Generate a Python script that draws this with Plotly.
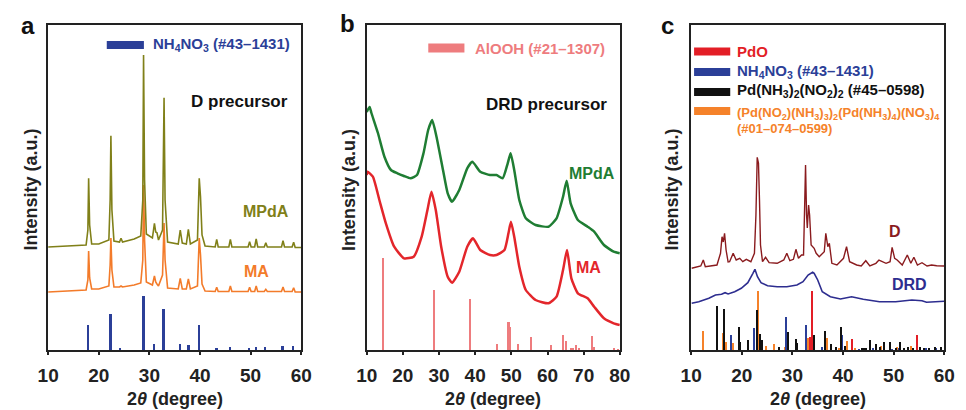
import plotly.graph_objects as go

W, H = 966, 410
FONT = "Liberation Sans, Arial, sans-serif"

# ---------------- Panel a : D precursor (2theta 10-60) ----------------
a_mpda_x = [10, 15, 17.5, 17.85, 18.0, 18.2, 18.6, 20, 22.0, 22.25, 22.4, 22.6, 23.0, 24.1, 24.4, 24.7,
            27, 28.3, 28.7, 28.85, 29.05, 29.4, 30.6, 31.0, 31.25, 31.5, 31.8, 32.6, 32.9, 33.1, 33.6,
            35.7, 36.1, 36.5, 37.3, 37.7, 38.1, 39.5, 39.85, 40.1, 40.4, 41, 43.0, 43.3, 43.6, 45.7,
            46.0, 46.3, 49.5, 49.8, 50.1, 50.8, 51.1, 51.4, 52.7, 53.0, 53.3, 56.1, 56.4, 56.7, 58.2,
            58.5, 58.8, 60]
a_mpda_y = [103, 104, 105, 120, 171.7, 125, 106, 106, 110, 150, 214.3, 140, 109, 108, 111.7, 108,
            111, 114, 150, 295, 170, 116, 112, 126.7, 118, 117.3, 110, 120, 252.3, 150, 108,
            106, 120, 107, 106, 120.7, 106, 110, 171.7, 153.3, 115, 104, 103, 110.7, 103, 103,
            110.7, 103, 103, 108.3, 103, 103, 111, 103, 103, 107.3, 103, 103, 109.3, 103, 103,
            107.7, 102.5, 102.5]
a_ma_x = a_mpda_x
a_ma_y = [58, 59, 60, 70, 99, 72, 61, 61, 64, 85, 112, 80, 63, 63, 64, 63,
          65, 67, 90, 165, 110, 68, 65, 74, 68, 66, 64, 75, 127, 90, 62,
          61, 71.7, 61, 61, 71, 61, 64, 112, 95, 66, 59, 58.5, 62.7, 58.5, 58.5,
          64, 58.5, 58.5, 62.7, 58.5, 58.5, 64, 58.5, 58.5, 60.7, 58.5, 58.5, 63, 58.5, 58.5,
          62.3, 58, 58]
a_ref_x = [17.9, 22.4, 24.3, 28.9, 31.0, 32.9, 36.1, 37.8, 39.9, 43.3, 46.0, 49.8, 51.1, 52.9, 56.4, 58.5]
a_ref_h = [25, 35.7, 2.3, 54.3, 6, 41, 6, 5, 25, 1.7, 2.7, 1.7, 2.7, 2.7, 3.7, 3.7]

# ---------------- Panel b : DRD precursor (2theta 10-80) ----------------
b_mpda_x = [10, 10.8, 11.3, 13.1, 14.9, 16.7, 18.5, 20.3, 22.1, 23.9, 25.7, 27.0, 28.1, 29.3, 31.1, 32.4,
            33.6, 35.6, 37.8, 39.2, 41.4, 44.1, 45.9, 47.6, 49.0, 49.8, 50.8, 52.2, 54.0, 56.7, 60.3,
            62.5, 64.3, 65.3, 66.4, 68.4, 71.1, 72.9, 75.6, 78.3, 80]
b_mpda_y = [238, 243, 237, 217, 193.3, 180, 176.7, 174, 171.7, 175, 196.7, 220, 230, 213.3, 180, 156.7,
            148.3, 160, 181.7, 188.3, 178.3, 175, 175, 171.7, 186.7, 196.7, 180, 150, 131.7, 125, 123.3,
            131.7, 153.3, 169.3, 146.7, 130, 123.3, 118.3, 105, 98.3, 96.7]
b_ma_x = [10, 10.2, 11.7, 13.5, 15.3, 17.6, 20.3, 23.0, 25.2, 26.8, 27.9, 29.1, 30.6, 32.4, 33.6, 35.6,
          37.8, 39.4, 41.4, 44.1, 45.9, 48.1, 49.2, 49.9, 50.8, 52.2, 54.0, 56.7, 60.3, 62.5, 64.3,
          65.4, 66.6, 68.4, 71.1, 72.9, 75.6, 78.3, 80]
b_ma_y = [175, 178.3, 173.3, 150, 126.7, 103.3, 91.7, 93.3, 113.3, 140, 158.3, 140, 103.3, 73.3, 67.3, 78.3,
          103.3, 111.7, 100, 95, 95, 100, 116.7, 128.3, 113.3, 83.3, 60, 50, 46.7, 53.3, 80,
          100, 71.7, 56.7, 51.7, 43.3, 31.7, 26.7, 25]
b_ref_x = [14.6, 28.5, 38.6, 46.0, 49.2, 49.5, 51.9, 55.4, 60.9, 64.3, 65.2, 66.4, 67.0, 67.9, 68.8,
           72.2, 72.7, 78.3, 79.5]
b_ref_h = [92.3, 60, 50.7, 5.7, 27.7, 23.3, 5.7, 12.7, 5, 15, 9, 1.7, 1.7, 5, 1.7, 14.3, 3.3, 1.7, 1]

# ---------------- Panel c : D and DRD (2theta 10-60) ----------------
c_d_x = [10.1, 11.9, 12.4, 12.8, 15.1, 15.8, 16.1, 16.35, 16.6, 16.9, 17.3, 17.6, 18.3, 18.9, 19.6, 20.2,
         20.9, 21.8, 22.5, 22.8, 23.05, 23.3, 23.5, 23.7, 24.1, 24.7, 25.4, 27.0, 28.3, 28.9, 29.5,
         30.2, 30.7, 31.2, 31.8, 32.2, 32.45, 32.6, 32.8, 32.95, 33.2, 33.4, 33.7, 34.0, 34.3, 34.7,
         35.3, 36.3, 36.6, 37.0, 37.3, 37.8, 38.8, 40.1, 40.7, 41.3, 42.7, 43.6, 44.5, 45.3, 46.5,
         47.1, 47.7, 48.5, 49.3, 49.7, 50.2, 50.7, 51.7, 52.7, 53.4, 54.0, 54.7, 55.6, 56.6, 57.5,
         58.5, 60]
c_d_y = [81.7, 84, 90, 83.3, 85, 96.7, 113.3, 108, 116.7, 100, 88, 88.3, 96.7, 90, 91.7, 88.3,
         90.7, 88.3, 96.7, 135, 192.7, 187, 150, 105, 88.3, 92.7, 87.3, 86.7, 90, 96.7, 89.3,
         90.7, 100.7, 91.7, 95, 95, 150, 185, 135, 122, 145, 135, 105, 103.3, 101.7, 96.7,
         93.3, 98.3, 116.7, 103.3, 106.7, 86.7, 85, 91.7, 103.3, 88.3, 85, 84, 89.3, 84, 86.7,
         90, 88.3, 86.7, 88.3, 102.7, 91.7, 90, 85, 95, 86.7, 92.7, 85, 87.3, 84, 85,
         84.3, 84]
c_drd_x = [10.1, 11.5, 13.5, 14.8, 16.0, 16.7, 17.3, 18.6, 19.9, 21.2, 22.2, 22.6, 23.1, 23.8, 25.1,
           27.0, 28.9, 30.9, 32.1, 33.1, 34.0, 34.3, 35.0, 35.9, 37.5, 39.5, 41.7, 44.0, 47.2, 50.4,
           53.6, 55.6, 56.5, 58.1, 60]
c_drd_y = [46.7, 48.3, 51.7, 55, 55.7, 57.3, 56, 58.3, 61.7, 67.3, 76.7, 80.7, 73.3, 67.3, 64.3,
           63.3, 63.3, 65, 68.3, 75, 77.7, 76.7, 70, 58.3, 53.3, 51, 53.3, 50.7, 48.3, 48.3,
           50, 49.3, 47.7, 48.3, 48.7]
c_pdo_x = [33.6, 33.9, 41.9, 54.7]
c_pdo_h = [13.3, 59, 10.7, 15]
c_nh4_x = [17.9, 22.4, 28.9, 31.0, 32.8, 36.0, 37.7, 39.9, 43.3, 46.0, 49.8, 51.1, 52.9, 56.4, 58.5]
c_nh4_h = [15, 21.7, 33.3, 5, 25, 3.3, 3.3, 15, 1, 1.5, 1, 1.5, 1.5, 2, 2]
c_pdn_x = [15.2, 16.6, 19.5, 19.7, 21.3, 23.0, 23.6, 24.1, 27.4, 29.2, 30.7, 30.9, 34.4, 36.5, 37.8,
           38.6, 39.7, 40.4, 43.8, 44.2, 44.6, 45.4, 46.5, 47.3, 48.1, 49.4, 50.5, 51.4, 52.2, 53.0,
           54.0, 55.2, 56.0, 57.0, 58.3, 59.4]
c_pdn_h = [44, 40.7, 23.3, 8, 10, 40, 16, 10, 3.3, 17.7, 11, 6.7, 15, 19.3, 5.7,
           3.3, 22.7, 4.3, 2, 2.5, 1.5, 10, 5.7, 3, 7.7, 8.3, 2, 8.3, 2, 3.3,
           2, 2.7, 2, 1.5, 3.3, 3.3]
c_cpx_x = [12.4, 16.4, 16.9, 18.3, 23.2, 23.5, 24.8, 26.4, 28.6, 33.1, 37.0, 37.7, 39.2, 40.9, 42.5,
           44.3, 47.5, 50.7, 53.6, 56.5]
c_cpx_h = [19, 17.3, 8.3, 7.3, 59, 8, 4.3, 5.7, 3.3, 12.3, 12.3, 3, 2, 9, 2, 2, 4, 3, 4, 2]

x_ticks_a = [10, 20, 30, 40, 50, 60]
x_ticks_b = [10, 20, 30, 40, 50, 60, 70, 80]

# ---------------- colours ----------------
OLIVE = "#808019"
ORANGE = "#f37b2a"
NAVYBLUE = "#2b3f98"
GREEN = "#1f7d33"
RED = "#e3262b"
PINK = "#ee7c7e"
DARKRED = "#8a1b1e"
INDIGO = "#2d2d8f"
PDO_RED = "#e31e26"
BLACK = "#111111"
CPX_OR = "#f5822a"


def px(x):
    return x / W


def py(y):
    return (H - y) / H


fig = go.Figure()

# panel a
fig.add_trace(go.Bar(x=a_ref_x, y=a_ref_h, base=0, width=0.38, marker=dict(color=NAVYBLUE, line_width=0),
                     xaxis="x", yaxis="y"))
fig.add_trace(go.Scatter(x=a_ma_x, y=a_ma_y, mode="lines", line=dict(color=ORANGE, width=1.6),
                         xaxis="x", yaxis="y"))
fig.add_trace(go.Scatter(x=a_mpda_x, y=a_mpda_y, mode="lines", line=dict(color=OLIVE, width=1.6),
                         xaxis="x", yaxis="y"))
# panel b
fig.add_trace(go.Bar(x=b_ref_x, y=b_ref_h, base=0, width=0.45, marker=dict(color=PINK, line_width=0),
                     xaxis="x2", yaxis="y2"))
fig.add_trace(go.Scatter(x=b_ma_x, y=b_ma_y, mode="lines", line=dict(color=RED, width=2.5, shape="spline", smoothing=0.5),
                         xaxis="x2", yaxis="y2"))
fig.add_trace(go.Scatter(x=b_mpda_x, y=b_mpda_y, mode="lines", line=dict(color=GREEN, width=2.5, shape="spline", smoothing=0.5),
                         xaxis="x2", yaxis="y2"))
# panel c
for xs, hs, col in [(c_cpx_x, c_cpx_h, CPX_OR), (c_nh4_x, c_nh4_h, NAVYBLUE),
                    (c_pdn_x, c_pdn_h, BLACK), (c_pdo_x, c_pdo_h, PDO_RED)]:
    fig.add_trace(go.Bar(x=xs, y=hs, base=0, width=0.3, marker=dict(color=col, line_width=0),
                         xaxis="x3", yaxis="y3"))
fig.add_trace(go.Scatter(x=c_drd_x, y=c_drd_y, mode="lines", line=dict(color=INDIGO, width=1.6),
                         xaxis="x3", yaxis="y3"))
fig.add_trace(go.Scatter(x=c_d_x, y=c_d_y, mode="lines", line=dict(color=DARKRED, width=1.4),
                         xaxis="x3", yaxis="y3"))

tickfont = dict(family=FONT, size=19, color="#222222", weight="bold")


def xaxis(dom, rng, ticks, anchor):
    return dict(domain=dom, range=rng, tickvals=ticks, showline=True, linecolor="#222222", linewidth=1.6,
                mirror=True, ticks="outside", ticklen=3, tickwidth=1.5, tickcolor="#222222",
                tickfont=tickfont, showgrid=False, zeroline=False, anchor=anchor, fixedrange=True,
                ticklabelstandoff=4)


def yaxis(anchor):
    return dict(domain=[py(350), py(25)], range=[0, 325], showline=True, linecolor="#222222", linewidth=1.6,
                mirror=True, showticklabels=False, ticks="", showgrid=False, zeroline=False, anchor=anchor,
                fixedrange=True)


fig.update_layout(
    width=W, height=H, margin=dict(l=0, r=0, t=0, b=0),
    paper_bgcolor="white", plot_bgcolor="white", showlegend=False, barmode="overlay", bargap=0,
    hovermode=False,
    xaxis=xaxis([px(38), px(297)], [10, 60], x_ticks_a, "y"),
    xaxis2=xaxis([px(364), px(623)], [10, 80], x_ticks_b, "y2"),
    xaxis3=xaxis([px(696), px(955)], [10, 60], x_ticks_a, "y3"),
    yaxis=yaxis("x"), yaxis2=yaxis("x2"), yaxis3=yaxis("x3"),
)

ann = []


def text(x, y, t, size, color, xanchor="center", angle=0):
    ann.append(dict(x=px(x), y=py(y), xref="paper", yref="paper", text=t, showarrow=False,
                    xanchor=xanchor, yanchor="middle", textangle=angle,
                    font=dict(family=FONT, size=size, color=color)))


# panel letters
text(17, 25, "<b>a</b>", 24, "#111111")
text(344, 23, "<b>b</b>", 24, "#111111")
text(672, 25, "<b>c</b>", 24, "#111111")
# axis titles
for cx, cy in [(168, 399), (493.5, 399), (826, 399)]:
    text(cx, cy, "<b>2<i>θ</i> (degree)</b>", 18, "#222222")
for cx in [20, 346, 676]:
    text(cx, 190, "<b>Intensity (a.u.)</b>", 18, "#222222", angle=-90)

# panel a labels
text(143, 45, "<b>NH<sub>4</sub>NO<sub>3</sub> (#43–1431)</b>", 15, NAVYBLUE, xanchor="left")
text(234, 101, "<b>D precursor</b>", 17, "#111111")
text(261, 211, "<b>MPdA</b>", 16, OLIVE)
text(251, 272, "<b>MA</b>", 16, ORANGE)
# panel b labels
text(473, 48, "<b>AlOOH (#21–1307)</b>", 15, PINK, xanchor="left")
text(548, 104, "<b>DRD precursor</b>", 17, "#111111")
text(595, 173, "<b>MPdA</b>", 16, GREEN)
text(591, 267, "<b>MA</b>", 16, RED)
# panel c labels
text(741, 51, "<b>PdO</b>", 15, PDO_RED, xanchor="left")
text(741, 71, "<b>NH<sub>4</sub>NO<sub>3</sub> (#43–1431)</b>", 15, NAVYBLUE, xanchor="left")
text(741, 91, "<b>Pd(NH<sub>3</sub>)<sub>2</sub>(NO<sub>2</sub>)<sub>2</sub> (#45–0598)</b>", 15, BLACK, xanchor="left")
text(741, 113, "<b>(Pd(NO<sub>2</sub>)(NH<sub>3</sub>)<sub>3</sub>)<sub>2</sub>(Pd(NH<sub>3</sub>)<sub>4</sub>)(NO<sub>3</sub>)<sub>4</sub></b>",
     13, CPX_OR, xanchor="left")
text(741, 128, "<b>(#01–074–0599)</b>", 13, CPX_OR, xanchor="left")
text(905, 231, "<b>D</b>", 16, DARKRED)
text(919, 284, "<b>DRD</b>", 16, INDIGO)

shapes = []


def swatch(x0, x1, yc, h, color):
    shapes.append(dict(type="rect", xref="paper", yref="paper", x0=px(x0), x1=px(x1),
                       y0=py(yc + h / 2), y1=py(yc - h / 2), fillcolor=color, line_width=0))


swatch(98, 136, 45, 8, NAVYBLUE)
swatch(427, 464, 48, 9, PINK)
swatch(699, 736, 51.5, 8, PDO_RED)
swatch(699, 736, 72, 8, NAVYBLUE)
swatch(699, 736, 92, 8, BLACK)
swatch(699, 736, 111, 8, CPX_OR)

fig.update_layout(annotations=ann, shapes=shapes)
# remove the browser's default page margin so the 966x410 figure fills the window exactly
fig.write_html("out.html", config={"displayModeBar": False},
               post_script="document.body.style.margin='0';document.body.style.overflow='hidden';")
